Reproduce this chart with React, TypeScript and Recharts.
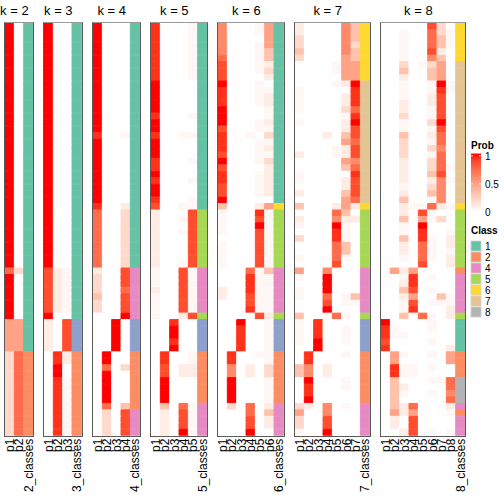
import React from "react";
import { BarChart, Bar, Cell, XAxis, YAxis } from "recharts";

// cell codes -> membership probability
const LEVELS: Record<string, number> = {
  "0": 0, "1": 0.04, "2": 0.1, "3": 0.2, "4": 0.32, "5": 0.48,
  "6": 0.6, "7": 0.73, "8": 0.85, "9": 0.93, X: 1,
};

// rows are grouped 9 / 19 / 1 / 9 / 7 / 1 / 5 / 8 / 5 (64 samples)
const k2_p1 = "XXXXXXXXX XXXXXXXXXXXXXXXXXXX X XXXXXXXXX 7XXXXXX X 55555 33333333 33333";
const k2_p2 = "000000000 0000000000000000000 0 000000000 3000000 0 55555 77777777 77777";
const k2_cls = "111111111 1111111111111111111 1 111111111 1111111 1 11111 22222222 22222";

const k3_p1 = "XXXXXXXXX XXXXXXXXXXXXXXXXXXX X XXXXXXXXX 8888888 X 22222 00000000 00000";
const k3_p2 = "000000000 0000000000000000000 0 000000000 2222222 0 00000 99XX9999 99999";
const k3_p3 = "000000000 0000000000000000000 0 000000000 1111111 0 88888 22001111 11111";
const k3_cls = "111111111 1111111111111111111 1 111111111 1111111 1 33333 22222222 22222";

const k4_p1 = "XXXXXXXXX XXXXXXXX9XXXXXXXXXX 9 777777777 2333433 0 00000 00000000 00000";
const k4_p2 = "000000000 0000000000000000000 0 000000000 0000000 0 00000 XX7XXXXX 73333";
const k4_p3 = "000000000 0000000000000000000 0 000000000 0000000 0 XXXXX 00000000 00000";
const k4_p4 = "000000000 0000000010000000000 2 333333333 8887888 X 00000 00300000 48888";
const k4_cls = "111111111 1111111111111111111 1 111111111 4444444 4 33333 22222222 24444";

const k5_p1 = "999999999 XXXXX9XX9XXX99X9XX9 8 222222222 1112111 1 00000 00000000 00000";
const k5_p2 = "000000000 0000000000000000000 0 000000000 0000000 0 00000 9988XXXX 42222";
const k5_p3 = "000000000 0000000000000000000 0 000000000 0000000 0 9XX9X 00000000 00000";
const k5_p4 = "000000000 0000000010000000000 1 010100001 8888888 2 00000 00220000 7888X";
const k5_p5 = "111111111 0000010010001001001 1 888888888 1111111 8 00000 11220000 11111";
const k5_cls = "111111111 1111111111111111111 1 555555555 4444444 5 33333 22222222 44444";

const k6_p1 = "666667888 X999XXX89998X89988X 4 111101111 0002200 0 00000 00000000 00000";
const k6_p2 = "000000000 0000000000000000000 0 000000000 0000000 0 00000 9966XXXX 30000";
const k6_p3 = "000000000 0000000000000000000 0 000000000 0000000 0 X9999 00000000 00000";
const k6_p4 = "000000000 0000000010000000000 0 000000000 7999889 0 00000 00220000 7788X";
const k6_p5 = "110111110 1111001101111011110 2 98X888888 1111111 8 00000 10000000 00000";
const k6_p6 = "555544232 0122112131213222220 5 111111111 4111111 2 11111 11331111 24220";
const k6_cls = "111111111 1111111111111111111 6 555555555 4444444 5 33333 22222222 44444";

const k7_p1 = "223343000 0111101000020011020 4 021030010 5101100 4 11110 00440000 35331";
const k7_p2 = "000000000 0000000000000000000 0 000000000 0000000 0 00000 9966X99X 20000";
const k7_p3 = "000000000 0000000000000000000 0 000000000 0000000 0 999XX 00000000 00000";
const k7_p4 = "000000000 0000000020000000000 0 000000000 6XXX78X 0 00000 00220000 6688X";
const k7_p5 = "000000110 1000000000110000000 2 76X997778 0000000 7 00000 00000000 00000";
const k7_p6 = "666665555 2022312245225402245 5 421114410 0000110 1 01110 10001100 10000";
const k7_p7 = "444344555 X99979X887886798887 2 020000000 0000410 0 00000 00000000 00000";
const k7_cls = "666666666 7777777777777777777 6 555555555 4444444 5 33333 22222222 44444";

const k8_p1 = "000000000 0000000000000000000 0 000000000 0000000 0 X9989 00000000 00000";
const k8_p2 = "000000000 0000000000000000000 0 000000000 5000000 0 01100 55994444 45220";
const k8_p3 = "011111342 1112231143332222124 2 241142210 2124211 4 00100 10110210 22002";
const k8_p4 = "000000000 0000000000000000000 1 000000000 5998589 0 00000 00110000 75888";
const k8_p5 = "000000100 0000000000000000000 1 85X997778 0000000 7 00000 00000000 00000";
const k8_p6 = "877786344 1122113121313342341 7 110011110 0101010 1 11010 10101010 00001";
const k8_p7 = "334424555 X98888X877677786666 2 030000000 0000410 0 00000 00001000 00000";
const k8_p8 = "011100000 1100000000000101000 1 000122122 0000112 2 00002 55007767 21001";
const k8_cls = "666666777 7777777777777777777 6 555555555 2444444 5 11111 22228888 42444";

const CLASS_COLORS: Record<string, string> = {
  "1": "#66C2A5", "2": "#FC8D62", "3": "#8DA0CB", "4": "#E78AC3",
  "5": "#A6D854", "6": "#FFD92F", "7": "#E5C494", "8": "#B3B3B3",
};
const LEGEND_CLASSES = ["1", "2", "4", "5", "6", "7", "8"];
const PROB_TICKS = [1, 0.5, 0];

const strip = (s: string) => s.replace(/\s/g, "").split("");
const probs = (s: string) => strip(s).map((c) => LEVELS[c]);

const panels = [
  { k: 2, probs: [k2_p1, k2_p2].map(probs), classes: strip(k2_cls) },
  { k: 3, probs: [k3_p1, k3_p2, k3_p3].map(probs), classes: strip(k3_cls) },
  { k: 4, probs: [k4_p1, k4_p2, k4_p3, k4_p4].map(probs), classes: strip(k4_cls) },
  { k: 5, probs: [k5_p1, k5_p2, k5_p3, k5_p4, k5_p5].map(probs), classes: strip(k5_cls) },
  { k: 6, probs: [k6_p1, k6_p2, k6_p3, k6_p4, k6_p5, k6_p6].map(probs), classes: strip(k6_cls) },
  { k: 7, probs: [k7_p1, k7_p2, k7_p3, k7_p4, k7_p5, k7_p6, k7_p7].map(probs), classes: strip(k7_cls) },
  { k: 8, probs: [k8_p1, k8_p2, k8_p3, k8_p4, k8_p5, k8_p6, k8_p7, k8_p8].map(probs), classes: strip(k8_cls) },
];

const N_ROWS = 64;
const ROW_IDS = Array.from({ length: N_ROWS }, (_, i) => i);

const FONT = "'Liberation Sans', Arial, Helvetica, sans-serif";
const CELL_W = 9.34;
const GAP = 11.3;
const LEFT = 5;
const TOP = 23.3;
const PLOT_H = 412.7;
const AXIS_H = 68;
const PAD = 6; // side room so rotated labels are not clipped

// white -> red, interpolated in Lab
const RED_LAB = [53.2408, 80.0925, 67.2032];
function probColor(v: number): string {
  const L = 100 + (RED_LAB[0] - 100) * v;
  const a = RED_LAB[1] * v;
  const b = RED_LAB[2] * v;
  const fy = (L + 16) / 116;
  const fx = fy + a / 500;
  const fz = fy - b / 200;
  const inv = (t: number) => (t ** 3 > 0.008856 ? t ** 3 : (t - 16 / 116) / 7.787);
  const X = 0.95047 * inv(fx);
  const Y = inv(fy);
  const Z = 1.08883 * inv(fz);
  const lin = [
    3.2406 * X - 1.5372 * Y - 0.4986 * Z,
    -0.9689 * X + 1.8758 * Y + 0.0415 * Z,
    0.0557 * X - 0.204 * Y + 1.057 * Z,
  ];
  const rgb = lin.map((c) => {
    const s = c <= 0.0031308 ? 12.92 * c : 1.055 * Math.pow(c, 1 / 2.4) - 0.055;
    return Math.round(255 * Math.min(1, Math.max(0, s)));
  });
  return `rgb(${rgb.join(",")})`;
}

const panelLeft = (idx: number) => {
  let x = LEFT;
  for (let m = 0; m < idx; m++) x += (panels[m].k + 1) * CELL_W + GAP;
  return x;
};

function Panel({ panel, left }: { panel: (typeof panels)[number]; left: number }) {
  const cols = panel.k + 1;
  const width = cols * CELL_W;
  const labels = [...panel.probs.map((_, j) => `p${j + 1}`), `${panel.k}_classes`];
  const ticks = labels.map((_, j) => j + 0.5);
  const table = ROW_IDS.map((i) => {
    const o: Record<string, number> = { row: i };
    labels.forEach((_, j) => (o[`c${j}`] = 1));
    return o;
  });

  const renderTick = (props: any) => {
    const { x, y, payload } = props;
    const label = labels[Math.round(payload.value - 0.5)];
    return (
      <text
        transform={`translate(${x},${y}) rotate(-90)`}
        textAnchor="end"
        dy="0.36em"
        fontSize={12}
        fontFamily={FONT}
        fill="#000"
      >
        {label}
      </text>
    );
  };

  return (
    <div style={{ position: "absolute", left: left - PAD, top: TOP }}>
      <BarChart
        width={width + 2 * PAD}
        height={PLOT_H + AXIS_H}
        data={table}
        layout="vertical"
        margin={{ top: 0, right: PAD, bottom: 0, left: PAD }}
        barCategoryGap={0}
        barGap={0}
      >
        <XAxis
          type="number"
          domain={[0, cols]}
          ticks={ticks}
          interval={0}
          axisLine={false}
          tickLine={false}
          tickSize={0}
          tickMargin={3}
          height={AXIS_H}
          tick={renderTick}
        />
        <YAxis type="category" dataKey="row" hide />
        {labels.map((_, j) => (
          <Bar key={j} dataKey={`c${j}`} stackId="s" isAnimationActive={false}>
            {ROW_IDS.map((i) => {
              const fill =
                j < panel.k ? probColor(panel.probs[j][i]) : CLASS_COLORS[panel.classes[i]];
              return <Cell key={i} fill={fill} stroke={fill} strokeWidth={1} />;
            })}
          </Bar>
        ))}
      </BarChart>
      <div
        style={{
          position: "absolute",
          left: PAD - 1,
          top: -1,
          width: width + 2,
          height: PLOT_H + 2,
          boxSizing: "border-box",
          border: "1px solid #5a5a5a",
          borderTop: "1.5px solid #9a9a9a",
          pointerEvents: "none",
        }}
      />
    </div>
  );
}

const GRAD_STOPS = Array.from({ length: 11 }, (_, i) => i / 10);

const App: React.FC = () => {
  return (
    <div
      style={{
        position: "absolute",
        left: 0,
        top: 0,
        width: 504,
        height: 504,
        background: "#fff",
        overflow: "hidden",
      }}
    >
      {panels.map((p, idx) => (
        <Panel key={p.k} panel={p} left={panelLeft(idx)} />
      ))}
      <svg
        width={504}
        height={504}
        style={{ position: "absolute", left: 0, top: 0, pointerEvents: "none" }}
        fontFamily={FONT}
      >
        <defs>
          <linearGradient id="probGrad" x1="0" y1="1" x2="0" y2="0">
            {GRAD_STOPS.map((t) => (
              <stop key={t} offset={t} stopColor={probColor(t)} />
            ))}
          </linearGradient>
        </defs>
        {panels.map((p, idx) => (
          <text
            key={p.k}
            x={panelLeft(idx) + (p.k * CELL_W) / 2}
            y={15}
            textAnchor="middle"
            fontSize={13}
          >
            {`k = ${p.k}`}
          </text>
        ))}
        <text x={471} y={149} fontSize={10} fontWeight="bold">
          Prob
        </text>
        <rect x={471} y={153.5} width={10} height={58.5} fill="url(#probGrad)" />
        {PROB_TICKS.map((v) => {
          const y = 212 - v * 56.2;
          return (
            <g key={v}>
              <line x1={471} x2={473} y1={y} y2={y} stroke="#fff" strokeWidth={0.8} />
              <line x1={479} x2={481} y1={y} y2={y} stroke="#fff" strokeWidth={0.8} />
              <text x={485} y={y + 0.5} dominantBaseline="central" fontSize={10}>
                {String(v)}
              </text>
            </g>
          );
        })}
        <text x={471} y={233.5} fontSize={10} fontWeight="bold">
          Class
        </text>
        {LEGEND_CLASSES.map((c, i) => (
          <g key={c}>
            <rect
              x={471}
              y={241 + i * 11}
              width={10}
              height={10}
              fill={CLASS_COLORS[c]}
              stroke="#cfcfcf"
              strokeWidth={0.8}
            />
            <text x={485} y={246 + i * 11} dominantBaseline="central" fontSize={10}>
              {c}
            </text>
          </g>
        ))}
      </svg>
    </div>
  );
};

export default App;
